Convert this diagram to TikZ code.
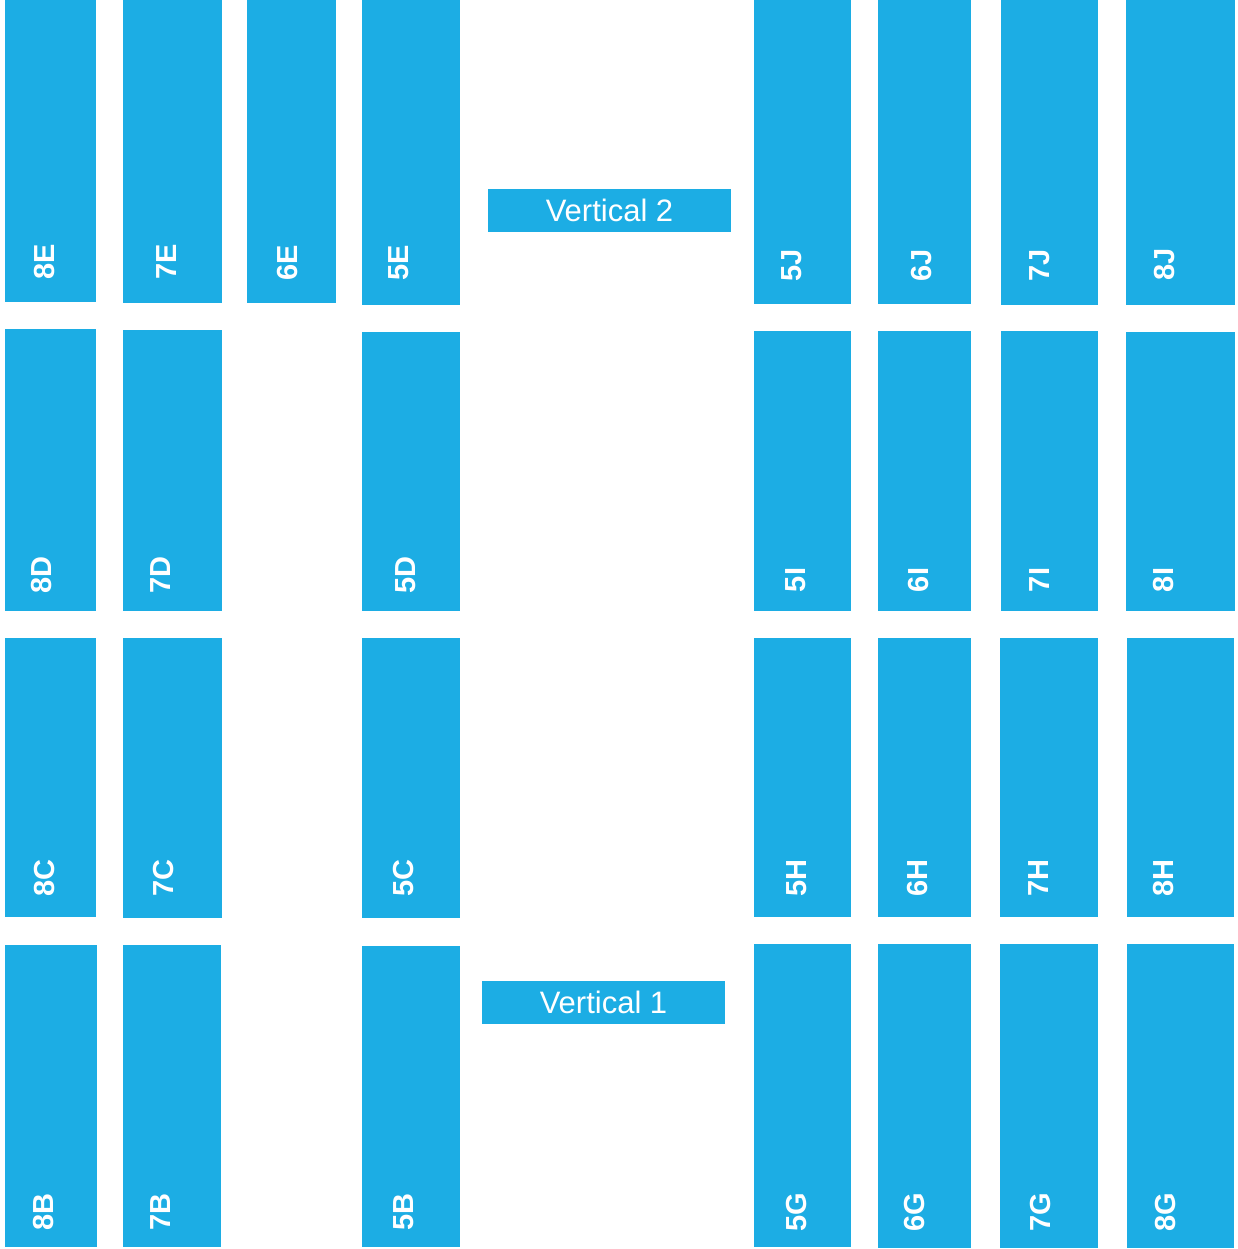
\documentclass[tikz,border=0pt]{standalone}
\usepackage{fontspec}
\setmainfont{Liberation Sans}
\definecolor{bluebox}{RGB}{28,173,228}
\newcommand{\blk}[7]{%
  \node[blk, minimum width={(#4-#2)*1pt}, minimum height={(#5-#3)*1pt}] (b#1) at ({(#2+#4)/2},{(#3+#5)/2}) {};
  \node[lbl] (t#1) at (#6,#7) {#1};}
\begin{document}
\begin{tikzpicture}[x=1pt,y=-1pt,
  blk/.style={fill=bluebox, inner sep=0pt, outer sep=0pt, draw=none},
  lbl/.style={text=white, font=\fontsize{29}{29}\selectfont\bfseries, rotate=90, inner sep=0pt},
  vbox/.style={fill=bluebox, text=white, font=\fontsize{31}{31}\selectfont, inner sep=0pt}]
\useasboundingbox (0,0) rectangle (1237,1249);
% row 1
\blk{8E}{5}{0}{96}{302}{45}{262}
\blk{7E}{123}{0}{222}{303}{167}{262}
\blk{6E}{247}{0}{336}{303}{288}{263}
\blk{5E}{362}{0}{460}{305}{399}{263}
\blk{5J}{754}{0}{851}{304}{792}{265}
\blk{6J}{878}{0}{971}{304}{922}{265}
\blk{7J}{1001}{0}{1098}{305}{1040}{265}
\blk{8J}{1126}{0}{1235}{305}{1164}{264}
% row 2
\blk{8D}{5}{329}{96}{611}{42}{575}
\blk{7D}{123}{330}{222}{611}{161}{575}
\blk{5D}{362}{332}{460}{611}{406}{575}
\blk{5I}{754}{331}{851}{611}{796}{580}
\blk{6I}{878}{331}{971}{611}{919}{580}
\blk{7I}{1001}{331}{1098}{611}{1040}{580}
\blk{8I}{1126}{332}{1235}{611}{1163}{580}
% row 3
\blk{8C}{5}{638}{96}{917}{45}{878}
\blk{7C}{123}{638}{222}{918}{164}{878}
\blk{5C}{362}{638}{460}{918}{404}{878}
\blk{5H}{754}{638}{851}{917}{797}{878}
\blk{6H}{878}{638}{971}{917}{918}{878}
\blk{7H}{1000}{638}{1098}{917}{1039}{878}
\blk{8H}{1127}{638}{1234}{917}{1163}{878}
% row 4
\blk{8B}{5}{945}{97}{1247}{44}{1212}
\blk{7B}{123}{945}{221}{1247}{161}{1212}
\blk{5B}{362}{946}{460}{1247}{404}{1212}
\blk{5G}{754}{944}{851}{1247}{797}{1212}
\blk{6G}{878}{944}{971}{1248}{915}{1212}
\blk{7G}{1000}{944}{1098}{1248}{1041}{1212}
\blk{8G}{1127}{944}{1234}{1248}{1165}{1212}
% vertical labels
\node[vbox, minimum width=243pt, minimum height=43pt] (v2) at (609.5,210.5) {Vertical 2};
\node[vbox, minimum width=243pt, minimum height=43pt] (v1) at (603.5,1002.5) {Vertical 1};
\end{tikzpicture}
\end{document}
